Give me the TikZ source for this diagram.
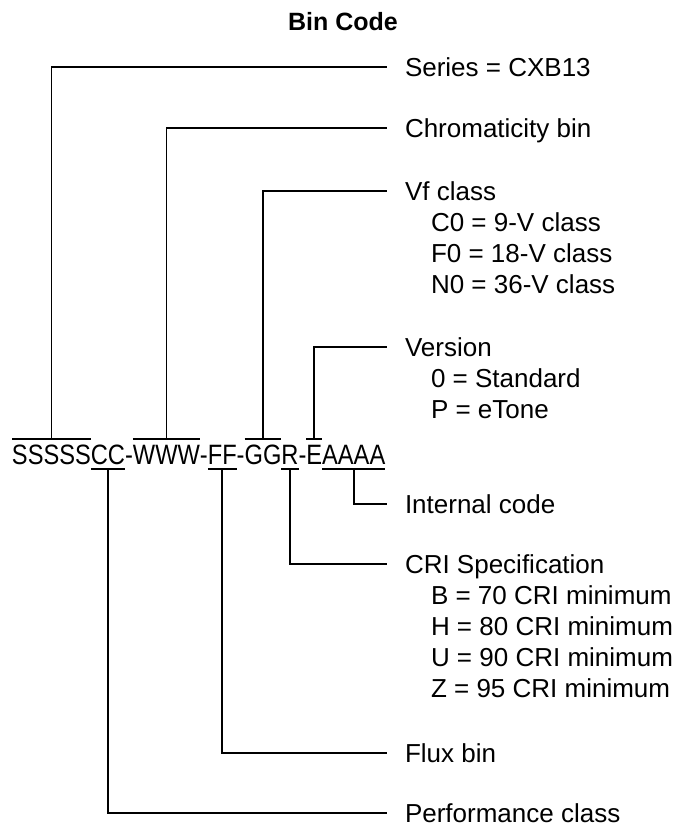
\documentclass[tikz,border=0pt]{standalone}
\usepackage{fontspec}
\setmainfont{Liberation Sans}
\newfontfamily\codefont[FakeStretch=0.845]{Liberation Sans}
\usetikzlibrary{positioning}

\begin{document}
\begin{tikzpicture}[x=1pt,y=-1pt,line width=1.7pt,
  lbl/.style={anchor=west,inner sep=0pt,outer xsep=18pt,text height=18.6pt,text depth=0pt,font=\fontsize{26}{31}\selectfont},
  chr/.style={anchor=base west,inner sep=0pt,outer sep=0pt,text height=20pt,text depth=0pt,font=\codefont\fontsize{28}{31}\selectfont}]
\useasboundingbox (0,0) rectangle (684,827);

\node[font=\bfseries\fontsize{25}{30}\selectfont] (title) at (343,22) {Bin Code};

\node[chr] (sss) at (12,464) {SSSSS};
\node[chr] (cc) at (sss.base east) {CC};
\node[chr] (d1) at (cc.base east) {-};
\node[chr] (www) at (d1.base east) {WWW};
\node[chr] (d2) at (www.base east) {-};
\node[chr] (ff) at (d2.base east) {FF};
\node[chr] (d3) at (ff.base east) {-};
\node[chr] (gg) at (d3.base east) {GG};
\node[chr] (r) at (gg.base east) {R};
\node[chr] (d4) at (r.base east) {-};
\node[chr] (e) at (d4.base east) {E};
\node[chr] (aaaa) at (e.base east) {AAAA};

\foreach \n in {sss,www,gg,e}
  \draw ([yshift=5pt]\n.north west) -- ([yshift=5pt]\n.north east);
\foreach \n in {cc,ff,r,aaaa}
  \draw ([yshift=-5pt]\n.south west) -- ([yshift=-5pt]\n.south east);

\node[lbl] (series) at (387,67) {Series = CXB13};
\node[lbl] (chroma) at (387,128) {Chromaticity bin};
\node[lbl] (vf) at (387,191) {Vf class};
\node[lbl,below right=31pt and 26pt of vf.west,anchor=west] (vfc) {C0 = 9-V class};
\node[lbl,below=31pt of vfc.west,anchor=west] (vff) {F0 = 18-V class};
\node[lbl,below=31pt of vff.west,anchor=west] (vfn) {N0 = 36-V class};
\node[lbl] (vers) at (387,347) {Version};
\node[lbl,below right=31pt and 26pt of vers.west,anchor=west] (versstd) {0 = Standard};
\node[lbl,below=31pt of versstd.west,anchor=west] (verstone) {P = eTone};

\node[lbl] (intl) at (387,504) {Internal code};
\node[lbl] (cri) at (387,564) {CRI Specification};
\node[lbl,below right=31pt and 26pt of cri.west,anchor=west] (crib) {B = 70 CRI minimum};
\node[lbl,below=31pt of crib.west,anchor=west] (crih) {H = 80 CRI minimum};
\node[lbl,below=31pt of crih.west,anchor=west] (criu) {U = 90 CRI minimum};
\node[lbl,below=31pt of criu.west,anchor=west] (criz) {Z = 95 CRI minimum};
\node[lbl] (flux) at (387,753) {Flux bin};
\node[lbl] (perf) at (387,813) {Performance class};

\draw ([yshift=5pt]sss.north) |- (series.west);
\draw ([yshift=5pt]www.north) |- (chroma.west);
\draw ([yshift=5pt]gg.north) |- (vf.west);
\draw ([yshift=5pt]e.north) |- (vers.west);

\draw ([yshift=-5pt]aaaa.south) |- (intl.west);
\draw ([yshift=-5pt]r.south) |- (cri.west);
\draw ([yshift=-5pt]ff.south) |- (flux.west);
\draw ([yshift=-5pt]cc.south) |- (perf.west);

\end{tikzpicture}
\end{document}
